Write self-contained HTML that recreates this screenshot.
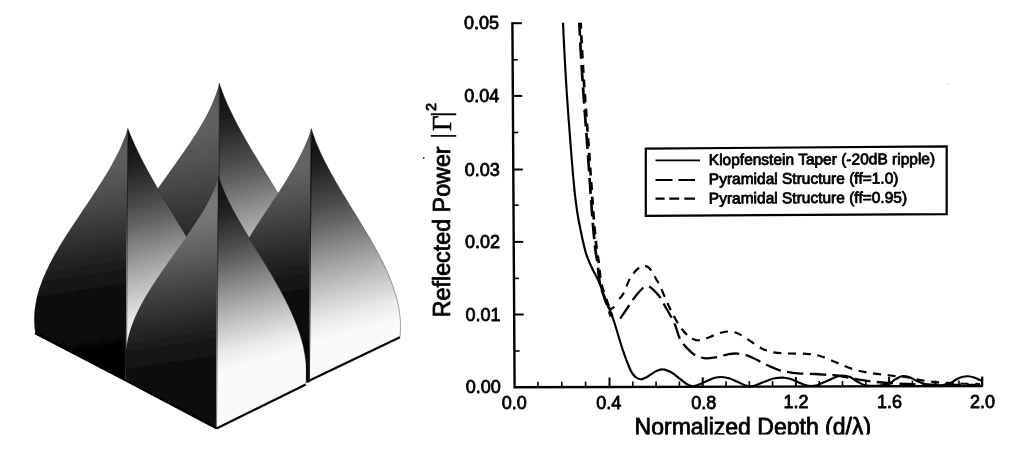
<!DOCTYPE html>
<html><head><meta charset="utf-8"><title>Pyramidal structure reflected power</title>
<style>
html,body{margin:0;padding:0;background:#fff;}
body{width:1024px;height:454px;overflow:hidden;}
svg{display:block;}
</style></head>
<body>
<svg width="1024" height="454" viewBox="0 0 1024 454">
<defs><filter id="soft" x="-2%" y="-2%" width="104%" height="104%"><feGaussianBlur stdDeviation="0.45"/></filter><linearGradient id="glB" gradientUnits="userSpaceOnUse" x1="219.3" y1="83.2" x2="258.9" y2="347.3"><stop offset="0.000" stop-color="#4b4b4b"/><stop offset="0.102" stop-color="#606060"/><stop offset="0.186" stop-color="#5d5d5d"/><stop offset="0.326" stop-color="#4c4c4c"/><stop offset="0.465" stop-color="#353535"/><stop offset="0.581" stop-color="#242424"/><stop offset="0.698" stop-color="#141414"/><stop offset="0.814" stop-color="#0a0a0a"/><stop offset="1.000" stop-color="#060606"/></linearGradient><linearGradient id="grB" gradientUnits="userSpaceOnUse" x1="219.3" y1="83.2" x2="273.9" y2="293.0"><stop offset="0.000" stop-color="#0e0e0e"/><stop offset="0.093" stop-color="#141414"/><stop offset="0.186" stop-color="#222222"/><stop offset="0.279" stop-color="#363636"/><stop offset="0.372" stop-color="#4c4c4c"/><stop offset="0.465" stop-color="#666666"/><stop offset="0.558" stop-color="#848484"/><stop offset="0.674" stop-color="#a8a8a8"/><stop offset="0.791" stop-color="#cacaca"/><stop offset="0.907" stop-color="#eaeaea"/><stop offset="1.000" stop-color="#fafafa"/></linearGradient><linearGradient id="glL" gradientUnits="userSpaceOnUse" x1="127.8" y1="128.5" x2="159.3" y2="338.8"><stop offset="0.000" stop-color="#494949"/><stop offset="0.102" stop-color="#5d5d5d"/><stop offset="0.186" stop-color="#5a5a5a"/><stop offset="0.326" stop-color="#4a4a4a"/><stop offset="0.465" stop-color="#343434"/><stop offset="0.581" stop-color="#232323"/><stop offset="0.698" stop-color="#131313"/><stop offset="0.814" stop-color="#0a0a0a"/><stop offset="1.000" stop-color="#060606"/></linearGradient><linearGradient id="grL" gradientUnits="userSpaceOnUse" x1="127.8" y1="128.5" x2="180.2" y2="329.9"><stop offset="0.000" stop-color="#0e0e0e"/><stop offset="0.093" stop-color="#141414"/><stop offset="0.186" stop-color="#222222"/><stop offset="0.279" stop-color="#363636"/><stop offset="0.372" stop-color="#4c4c4c"/><stop offset="0.465" stop-color="#666666"/><stop offset="0.558" stop-color="#848484"/><stop offset="0.674" stop-color="#a8a8a8"/><stop offset="0.791" stop-color="#cacaca"/><stop offset="0.907" stop-color="#eaeaea"/><stop offset="1.000" stop-color="#fafafa"/></linearGradient><linearGradient id="glR" gradientUnits="userSpaceOnUse" x1="311.3" y1="128.8" x2="342.8" y2="339.1"><stop offset="0.000" stop-color="#4f4f4f"/><stop offset="0.102" stop-color="#656565"/><stop offset="0.186" stop-color="#626262"/><stop offset="0.326" stop-color="#505050"/><stop offset="0.465" stop-color="#383838"/><stop offset="0.581" stop-color="#262626"/><stop offset="0.698" stop-color="#151515"/><stop offset="0.814" stop-color="#0b0b0b"/><stop offset="1.000" stop-color="#060606"/></linearGradient><linearGradient id="grR" gradientUnits="userSpaceOnUse" x1="311.3" y1="128.8" x2="363.7" y2="330.2"><stop offset="0.000" stop-color="#0e0e0e"/><stop offset="0.093" stop-color="#141414"/><stop offset="0.186" stop-color="#222222"/><stop offset="0.279" stop-color="#363636"/><stop offset="0.372" stop-color="#4c4c4c"/><stop offset="0.465" stop-color="#666666"/><stop offset="0.558" stop-color="#848484"/><stop offset="0.674" stop-color="#a8a8a8"/><stop offset="0.791" stop-color="#cacaca"/><stop offset="0.907" stop-color="#eaeaea"/><stop offset="1.000" stop-color="#fafafa"/></linearGradient><linearGradient id="glF" gradientUnits="userSpaceOnUse" x1="218.4" y1="176.2" x2="252.4" y2="403.1"><stop offset="0.000" stop-color="#5e5e5e"/><stop offset="0.102" stop-color="#787878"/><stop offset="0.186" stop-color="#747474"/><stop offset="0.326" stop-color="#5e5e5e"/><stop offset="0.465" stop-color="#424242"/><stop offset="0.581" stop-color="#2d2d2d"/><stop offset="0.698" stop-color="#191919"/><stop offset="0.814" stop-color="#0d0d0d"/><stop offset="1.000" stop-color="#070707"/></linearGradient><linearGradient id="grF" gradientUnits="userSpaceOnUse" x1="218.4" y1="176.2" x2="266.1" y2="359.8"><stop offset="0.000" stop-color="#0e0e0e"/><stop offset="0.093" stop-color="#141414"/><stop offset="0.186" stop-color="#222222"/><stop offset="0.279" stop-color="#363636"/><stop offset="0.372" stop-color="#4c4c4c"/><stop offset="0.465" stop-color="#666666"/><stop offset="0.558" stop-color="#848484"/><stop offset="0.674" stop-color="#a8a8a8"/><stop offset="0.791" stop-color="#cacaca"/><stop offset="0.907" stop-color="#eaeaea"/><stop offset="1.000" stop-color="#fafafa"/></linearGradient></defs>
<rect width="1024" height="454" fill="#fff"/>
<g id="pyramids" filter="url(#soft)">
<path d="M219.3 83.2 L218.5 86.2 L217.6 89.2 L216.6 92.2 L215.6 95.3 L214.4 98.3 L213.2 101.3 L211.9 104.3 L210.5 107.3 L209.1 110.4 L207.5 113.4 L206.0 116.4 L204.3 119.4 L202.6 122.4 L200.9 125.4 L199.1 128.5 L197.2 131.5 L195.4 134.5 L193.4 137.5 L191.5 140.5 L189.5 143.5 L187.4 146.6 L185.4 149.6 L183.3 152.6 L181.2 155.6 L179.1 158.6 L176.9 161.6 L174.8 164.7 L172.6 167.7 L170.5 170.7 L168.3 173.7 L166.2 176.7 L164.0 179.7 L161.9 182.8 L159.7 185.8 L157.6 188.8 L155.5 191.8 L153.4 194.8 L151.4 197.8 L149.4 200.9 L147.4 203.9 L145.4 206.9 L143.5 209.9 L141.6 212.9 L139.8 215.9 L138.0 219.0 L136.3 222.0 L134.6 225.0 L133.0 228.0 L133.0 300.0 L219.0 300.0Z" fill="url(#glB)"/>
<path d="M219.3 83.2 L220.3 86.2 L221.4 89.3 L222.5 92.3 L223.7 95.3 L224.9 98.4 L226.2 101.4 L227.5 104.4 L228.9 107.5 L230.3 110.5 L231.8 113.6 L233.2 116.6 L234.8 119.6 L236.3 122.7 L237.9 125.7 L239.6 128.7 L241.2 131.8 L242.9 134.8 L244.6 137.8 L246.3 140.9 L248.1 143.9 L249.9 146.9 L251.6 150.0 L253.4 153.0 L255.3 156.0 L257.1 159.1 L258.9 162.1 L260.8 165.2 L262.7 168.2 L264.5 171.2 L266.4 174.3 L268.3 177.3 L270.1 180.3 L272.0 183.4 L273.9 186.4 L275.7 189.4 L277.6 192.5 L279.4 195.5 L281.2 198.5 L283.0 201.6 L284.8 204.6 L286.6 207.6 L288.3 210.7 L290.1 213.7 L291.8 216.8 L293.5 219.8 L295.1 222.8 L296.8 225.9 L298.4 228.9 L299.9 231.9 L301.5 235.0 L303.0 238.0 L302.4 300.0 L218.4 300.0Z" fill="url(#grB)"/>
<path d="M219.3 83.2 L220.3 86.2 L221.4 89.3 L222.5 92.3 L223.7 95.3 L224.9 98.4 L226.2 101.4 L227.5 104.4 L228.9 107.5 L230.3 110.5 L231.8 113.6 L233.2 116.6 L234.8 119.6 L236.3 122.7 L237.9 125.7 L239.6 128.7 L241.2 131.8 L242.9 134.8 L244.6 137.8 L246.3 140.9 L248.1 143.9 L249.9 146.9 L251.6 150.0 L253.4 153.0 L255.3 156.0 L257.1 159.1 L258.9 162.1 L260.8 165.2 L262.7 168.2 L264.5 171.2 L266.4 174.3 L268.3 177.3 L270.1 180.3 L272.0 183.4 L273.9 186.4 L275.7 189.4 L277.6 192.5 L279.4 195.5 L281.2 198.5 L283.0 201.6 L284.8 204.6 L286.6 207.6 L288.3 210.7 L290.1 213.7 L291.8 216.8 L293.5 219.8 L295.1 222.8 L296.8 225.9 L298.4 228.9 L299.9 231.9 L301.5 235.0 L303.0 238.0" fill="none" stroke="#1a1a1a" stroke-width="0.9" stroke-opacity="0.45"/>
<path d="M219.3 83.2 L219.0 300.0" fill="none" stroke="#111" stroke-width="1" stroke-opacity="0.6"/>
<path d="M127.8 128.5 L126.8 131.5 L125.8 134.6 L124.7 137.6 L123.5 140.6 L122.2 143.6 L120.9 146.7 L119.5 149.7 L118.0 152.7 L116.5 155.8 L114.9 158.8 L113.3 161.8 L111.6 164.9 L109.9 167.9 L108.2 170.9 L106.4 173.9 L104.5 177.0 L102.7 180.0 L100.8 183.0 L98.8 186.1 L96.9 189.1 L94.9 192.1 L92.9 195.1 L90.9 198.2 L88.9 201.2 L86.9 204.2 L84.9 207.3 L82.8 210.3 L80.8 213.3 L78.8 216.4 L76.7 219.4 L74.7 222.4 L72.7 225.4 L70.7 228.5 L68.7 231.5 L66.8 234.5 L64.9 237.6 L63.0 240.6 L61.1 243.6 L59.3 246.6 L57.5 249.7 L55.7 252.7 L54.0 255.7 L52.4 258.8 L50.8 261.8 L49.2 264.8 L47.8 267.9 L46.3 270.9 L45.0 273.9 L43.7 276.9 L42.4 280.0 L41.3 283.0 L40.2 286.0 L39.2 289.1 L38.3 292.1 L37.5 295.1 L36.7 298.1 L36.1 301.2 L35.5 304.2 L35.1 307.2 L34.7 310.3 L34.4 313.3 L34.3 316.3 L34.2 319.4 L34.3 322.4 L34.4 325.4 L34.7 328.4 L35.1 331.5 L35.6 334.5 L126.4 380.7 L126.8 250.0Z" fill="url(#glL)"/>
<path d="M127.8 128.5 L129.0 131.5 L130.2 134.5 L131.5 137.5 L132.8 140.5 L134.1 143.5 L135.5 146.5 L136.9 149.6 L138.3 152.6 L139.8 155.6 L141.3 158.6 L142.8 161.6 L144.4 164.6 L146.0 167.6 L147.6 170.6 L149.2 173.6 L150.9 176.6 L152.6 179.6 L154.3 182.6 L156.0 185.6 L157.7 188.6 L159.5 191.7 L161.3 194.7 L163.1 197.7 L164.9 200.7 L166.7 203.7 L168.5 206.7 L170.3 209.7 L172.1 212.7 L173.9 215.7 L175.7 218.7 L177.5 221.7 L179.3 224.7 L181.1 227.7 L182.9 230.8 L184.7 233.8 L186.5 236.8 L188.2 239.8 L189.9 242.8 L191.6 245.8 L193.3 248.8 L195.0 251.8 L196.6 254.8 L198.2 257.8 L199.8 260.8 L201.4 263.8 L202.9 266.8 L204.3 269.8 L205.8 272.9 L207.2 275.9 L208.5 278.9 L209.8 281.9 L211.0 284.9 L212.1 287.9 L213.2 290.9 L214.3 293.9 L215.2 296.9 L216.1 299.9 L216.9 302.9 L217.6 305.9 L218.2 308.9 L218.7 311.9 L219.2 315.0 L219.5 318.0 L219.7 321.0 L219.8 324.0 L219.9 327.0 L219.7 330.0 L219.5 333.0 L125.8 380.7 L126.2 250.0Z" fill="url(#grL)"/>
<path d="M127.8 128.5 L129.0 131.5 L130.2 134.5 L131.5 137.5 L132.8 140.5 L134.1 143.5 L135.5 146.5 L136.9 149.6 L138.3 152.6 L139.8 155.6 L141.3 158.6 L142.8 161.6 L144.4 164.6 L146.0 167.6 L147.6 170.6 L149.2 173.6 L150.9 176.6 L152.6 179.6 L154.3 182.6 L156.0 185.6 L157.7 188.6 L159.5 191.7 L161.3 194.7 L163.1 197.7 L164.9 200.7 L166.7 203.7 L168.5 206.7 L170.3 209.7 L172.1 212.7 L173.9 215.7 L175.7 218.7 L177.5 221.7 L179.3 224.7 L181.1 227.7 L182.9 230.8 L184.7 233.8 L186.5 236.8 L188.2 239.8 L189.9 242.8 L191.6 245.8 L193.3 248.8 L195.0 251.8 L196.6 254.8 L198.2 257.8 L199.8 260.8 L201.4 263.8 L202.9 266.8 L204.3 269.8 L205.8 272.9 L207.2 275.9 L208.5 278.9 L209.8 281.9 L211.0 284.9 L212.1 287.9 L213.2 290.9 L214.3 293.9 L215.2 296.9 L216.1 299.9 L216.9 302.9 L217.6 305.9 L218.2 308.9 L218.7 311.9 L219.2 315.0 L219.5 318.0 L219.7 321.0 L219.8 324.0 L219.9 327.0 L219.7 330.0 L219.5 333.0" fill="none" stroke="#1a1a1a" stroke-width="0.9" stroke-opacity="0.45"/>
<path d="M127.8 128.5 L126.4 380.7" fill="none" stroke="#111" stroke-width="1" stroke-opacity="0.6"/>
<path d="M311.3 128.8 L310.3 131.8 L309.2 134.9 L308.1 137.9 L306.9 140.9 L305.6 144.0 L304.3 147.0 L302.9 150.0 L301.4 153.1 L299.9 156.1 L298.3 159.1 L296.7 162.2 L295.0 165.2 L293.3 168.2 L291.6 171.3 L289.8 174.3 L287.9 177.3 L286.1 180.4 L284.2 183.4 L282.3 186.4 L280.4 189.4 L278.4 192.5 L276.4 195.5 L274.5 198.5 L272.5 201.6 L270.5 204.6 L268.5 207.6 L266.4 210.7 L264.4 213.7 L262.4 216.7 L260.4 219.8 L258.5 222.8 L256.5 225.8 L254.5 228.9 L252.6 231.9 L250.7 234.9 L248.8 238.0 L246.9 241.0 L245.1 244.0 L243.3 247.1 L241.5 250.1 L239.8 253.1 L238.2 256.2 L236.5 259.2 L234.9 262.2 L233.4 265.3 L231.9 268.3 L230.5 271.3 L229.2 274.4 L227.9 277.4 L226.7 280.4 L225.5 283.5 L224.4 286.5 L223.4 289.5 L222.5 292.5 L221.7 295.6 L220.9 298.6 L220.2 301.6 L219.6 304.7 L219.2 307.7 L218.8 310.7 L218.5 313.8 L218.3 316.8 L218.2 319.8 L218.3 322.9 L218.4 325.9 L218.7 328.9 L219.0 332.0 L219.5 335.0 L309.4 380.5 L310.3 250.0Z" fill="url(#glR)"/>
<path d="M311.3 128.8 L312.3 131.8 L313.3 134.8 L314.4 137.8 L315.5 140.9 L316.7 143.9 L318.0 146.9 L319.3 149.9 L320.6 152.9 L322.1 155.9 L323.5 158.9 L325.0 162.0 L326.6 165.0 L328.1 168.0 L329.8 171.0 L331.4 174.0 L333.1 177.0 L334.8 180.0 L336.5 183.1 L338.3 186.1 L340.0 189.1 L341.8 192.1 L343.6 195.1 L345.5 198.1 L347.3 201.1 L349.1 204.2 L351.0 207.2 L352.8 210.2 L354.7 213.2 L356.5 216.2 L358.4 219.2 L360.2 222.2 L362.0 225.3 L363.8 228.3 L365.6 231.3 L367.4 234.3 L369.2 237.3 L370.9 240.3 L372.6 243.4 L374.3 246.4 L376.0 249.4 L377.6 252.4 L379.2 255.4 L380.8 258.4 L382.3 261.4 L383.8 264.5 L385.2 267.5 L386.6 270.5 L387.9 273.5 L389.2 276.5 L390.4 279.5 L391.6 282.5 L392.7 285.6 L393.7 288.6 L394.7 291.6 L395.6 294.6 L396.5 297.6 L397.2 300.6 L397.9 303.6 L398.6 306.7 L399.1 309.7 L399.6 312.7 L399.9 315.7 L400.2 318.7 L400.4 321.7 L400.5 324.7 L400.5 327.8 L400.4 330.8 L400.3 333.8 L400.0 336.8 L308.8 380.5 L309.7 250.0Z" fill="url(#grR)"/>
<path d="M311.3 128.8 L312.3 131.8 L313.3 134.8 L314.4 137.8 L315.5 140.9 L316.7 143.9 L318.0 146.9 L319.3 149.9 L320.6 152.9 L322.1 155.9 L323.5 158.9 L325.0 162.0 L326.6 165.0 L328.1 168.0 L329.8 171.0 L331.4 174.0 L333.1 177.0 L334.8 180.0 L336.5 183.1 L338.3 186.1 L340.0 189.1 L341.8 192.1 L343.6 195.1 L345.5 198.1 L347.3 201.1 L349.1 204.2 L351.0 207.2 L352.8 210.2 L354.7 213.2 L356.5 216.2 L358.4 219.2 L360.2 222.2 L362.0 225.3 L363.8 228.3 L365.6 231.3 L367.4 234.3 L369.2 237.3 L370.9 240.3 L372.6 243.4 L374.3 246.4 L376.0 249.4 L377.6 252.4 L379.2 255.4 L380.8 258.4 L382.3 261.4 L383.8 264.5 L385.2 267.5 L386.6 270.5 L387.9 273.5 L389.2 276.5 L390.4 279.5 L391.6 282.5 L392.7 285.6 L393.7 288.6 L394.7 291.6 L395.6 294.6 L396.5 297.6 L397.2 300.6 L397.9 303.6 L398.6 306.7 L399.1 309.7 L399.6 312.7 L399.9 315.7 L400.2 318.7 L400.4 321.7 L400.5 324.7 L400.5 327.8 L400.4 330.8 L400.3 333.8 L400.0 336.8" fill="none" stroke="#1a1a1a" stroke-width="0.9" stroke-opacity="0.45"/>
<path d="M311.3 128.8 L309.4 380.5" fill="none" stroke="#111" stroke-width="1" stroke-opacity="0.6"/>
<path d="M218.4 176.2 L217.6 179.2 L216.8 182.2 L215.8 185.2 L214.6 188.2 L213.4 191.2 L212.1 194.2 L210.7 197.3 L209.2 200.3 L207.6 203.3 L205.9 206.3 L204.2 209.3 L202.4 212.3 L200.5 215.3 L198.6 218.3 L196.7 221.3 L194.7 224.3 L192.7 227.3 L190.6 230.3 L188.6 233.3 L186.5 236.3 L184.4 239.4 L182.3 242.4 L180.2 245.4 L178.0 248.4 L175.9 251.4 L173.8 254.4 L171.7 257.4 L169.5 260.4 L167.4 263.4 L165.3 266.4 L163.2 269.4 L161.2 272.4 L159.1 275.4 L157.1 278.4 L155.1 281.5 L153.2 284.5 L151.2 287.5 L149.4 290.5 L147.5 293.5 L145.7 296.5 L144.0 299.5 L142.3 302.5 L140.7 305.5 L139.2 308.5 L137.7 311.5 L136.3 314.5 L134.9 317.5 L133.7 320.6 L132.5 323.6 L131.4 326.6 L130.4 329.6 L129.5 332.6 L128.7 335.6 L128.0 338.6 L127.4 341.6 L126.8 344.6 L126.4 347.6 L126.0 350.6 L125.7 353.6 L125.5 356.6 L125.4 359.6 L125.3 362.7 L125.4 365.7 L125.5 368.7 L125.7 371.7 L125.9 374.7 L126.2 377.7 L126.6 380.7 L216.5 428.4 L217.3 300.0Z" fill="url(#glF)"/>
<path d="M218.4 176.2 L219.4 179.2 L220.5 182.2 L221.6 185.2 L222.8 188.2 L224.0 191.2 L225.4 194.2 L226.7 197.3 L228.1 200.3 L229.6 203.3 L231.1 206.3 L232.7 209.3 L234.3 212.3 L235.9 215.3 L237.6 218.3 L239.3 221.3 L241.1 224.3 L242.8 227.3 L244.6 230.3 L246.4 233.3 L248.2 236.3 L250.0 239.4 L251.9 242.4 L253.7 245.4 L255.6 248.4 L257.4 251.4 L259.3 254.4 L261.1 257.4 L263.0 260.4 L264.8 263.4 L266.6 266.4 L268.4 269.4 L270.2 272.4 L272.0 275.4 L273.7 278.4 L275.4 281.5 L277.1 284.5 L278.8 287.5 L280.5 290.5 L282.1 293.5 L283.7 296.5 L285.2 299.5 L286.7 302.5 L288.2 305.5 L289.6 308.5 L291.0 311.5 L292.3 314.5 L293.6 317.5 L294.9 320.5 L296.1 323.6 L297.2 326.6 L298.3 329.6 L299.3 332.6 L300.3 335.6 L301.2 338.6 L302.0 341.6 L302.8 344.6 L303.5 347.6 L304.1 350.6 L304.7 353.6 L305.1 356.6 L305.5 359.6 L305.9 362.6 L306.1 365.7 L306.3 368.7 L306.4 371.7 L306.3 374.7 L306.2 377.7 L306.1 380.7 L305.8 383.7 L215.9 428.4 L216.7 300.0Z" fill="url(#grF)"/>
<path d="M218.4 176.2 L219.4 179.2 L220.5 182.2 L221.6 185.2 L222.8 188.2 L224.0 191.2 L225.4 194.2 L226.7 197.3 L228.1 200.3 L229.6 203.3 L231.1 206.3 L232.7 209.3 L234.3 212.3 L235.9 215.3 L237.6 218.3 L239.3 221.3 L241.1 224.3 L242.8 227.3 L244.6 230.3 L246.4 233.3 L248.2 236.3 L250.0 239.4 L251.9 242.4 L253.7 245.4 L255.6 248.4 L257.4 251.4 L259.3 254.4 L261.1 257.4 L263.0 260.4 L264.8 263.4 L266.6 266.4 L268.4 269.4 L270.2 272.4 L272.0 275.4 L273.7 278.4 L275.4 281.5 L277.1 284.5 L278.8 287.5 L280.5 290.5 L282.1 293.5 L283.7 296.5 L285.2 299.5 L286.7 302.5 L288.2 305.5 L289.6 308.5 L291.0 311.5 L292.3 314.5 L293.6 317.5 L294.9 320.5 L296.1 323.6 L297.2 326.6 L298.3 329.6 L299.3 332.6 L300.3 335.6 L301.2 338.6 L302.0 341.6 L302.8 344.6 L303.5 347.6 L304.1 350.6 L304.7 353.6 L305.1 356.6 L305.5 359.6 L305.9 362.6 L306.1 365.7 L306.3 368.7 L306.4 371.7 L306.3 374.7 L306.2 377.7 L306.1 380.7 L305.8 383.7" fill="none" stroke="#1a1a1a" stroke-width="0.9" stroke-opacity="0.45"/>
<path d="M218.4 176.2 L216.5 428.4" fill="none" stroke="#111" stroke-width="1" stroke-opacity="0.6"/>
<path d="M34.9 333 L126.5 380.7 L216.5 428.4" stroke="#000" stroke-width="2.2" fill="none"/>
<path d="M216.5 428.4 L305.8 384.5" stroke="#000" stroke-width="2.2" fill="none"/>
<path d="M308.5 381 L399.9 337.3" stroke="#000" stroke-width="2.2" fill="none"/>
<path d="M307.7 352 L307.7 382.6" stroke="#080808" stroke-width="3.2" fill="none"/>
<path d="M311.2 135 L309.4 380.5" stroke="#0a0a0a" stroke-width="1.1" fill="none" stroke-opacity="0.55"/>
<circle cx="947.5" cy="84" r="0.6" fill="#999"/>
</g>
<g id="plot">
<path d="M512.4 22.2 L514.6 387.3 L982.6 386" stroke="#000" stroke-width="2.4" fill="none" stroke-linejoin="miter"/>
<path d="M512.4 23.2 h9.5" stroke="#000" stroke-width="2"/><path d="M512.8 95.9 h9.5" stroke="#000" stroke-width="2"/><path d="M513.3 169.5 h9.5" stroke="#000" stroke-width="2"/><path d="M513.7 241.9 h9.5" stroke="#000" stroke-width="2"/><path d="M514.2 314.5 h9.5" stroke="#000" stroke-width="2"/><path d="M512.6 59.8 h5.2" stroke="#000" stroke-width="1.6"/><path d="M513.1 132.5 h5.2" stroke="#000" stroke-width="1.6"/><path d="M513.5 205.2 h5.2" stroke="#000" stroke-width="1.6"/><path d="M513.9 278.4 h5.2" stroke="#000" stroke-width="1.6"/><path d="M514.4 351.0 h5.2" stroke="#000" stroke-width="1.6"/><path d="M537.9 387.2 v-5.5" stroke="#000" stroke-width="1.6"/><path d="M561.8 387.2 v-5.5" stroke="#000" stroke-width="1.6"/><path d="M585.6 387.1 v-5.5" stroke="#000" stroke-width="1.6"/><path d="M609.5 387.0 v-9.5" stroke="#000" stroke-width="2"/><path d="M632.8 387.0 v-5.5" stroke="#000" stroke-width="1.6"/><path d="M656.1 386.9 v-5.5" stroke="#000" stroke-width="1.6"/><path d="M679.4 386.8 v-5.5" stroke="#000" stroke-width="1.6"/><path d="M702.7 386.8 v-9.5" stroke="#000" stroke-width="2"/><path d="M726.0 386.7 v-5.5" stroke="#000" stroke-width="1.6"/><path d="M749.3 386.6 v-5.5" stroke="#000" stroke-width="1.6"/><path d="M772.6 386.6 v-5.5" stroke="#000" stroke-width="1.6"/><path d="M795.9 386.5 v-9.5" stroke="#000" stroke-width="2"/><path d="M819.2 386.5 v-5.5" stroke="#000" stroke-width="1.6"/><path d="M842.5 386.4 v-5.5" stroke="#000" stroke-width="1.6"/><path d="M865.8 386.3 v-5.5" stroke="#000" stroke-width="1.6"/><path d="M889.1 386.3 v-9.5" stroke="#000" stroke-width="2"/><path d="M912.4 386.2 v-5.5" stroke="#000" stroke-width="1.6"/><path d="M935.7 386.1 v-5.5" stroke="#000" stroke-width="1.6"/><path d="M959.0 386.1 v-5.5" stroke="#000" stroke-width="1.6"/><path d="M982.3 386.0 v-9.5" stroke="#000" stroke-width="2"/>
<path d="M563.0 22.8 C563.3 29.0 564.2 48.8 564.8 60.0 C565.4 71.2 566.0 80.0 566.6 90.0 C567.2 100.0 568.0 110.0 568.7 120.0 C569.4 130.0 570.2 140.0 571.0 150.0 C571.8 160.0 572.7 171.7 573.5 180.0 C574.3 188.3 574.7 193.2 575.6 200.0 C576.5 206.8 577.1 212.2 578.7 220.8 C580.4 229.4 583.3 243.8 585.5 251.7 C587.7 259.6 589.7 262.9 592.0 268.0 C594.3 273.1 597.1 277.2 599.3 282.5 C601.5 287.8 603.8 295.9 605.4 300.0 C607.0 304.1 607.1 303.3 608.6 307.0 C610.1 310.7 611.8 314.7 614.2 322.0 C616.6 329.3 620.2 342.6 623.0 350.7 C625.8 358.8 628.6 366.1 630.7 370.5 C632.8 374.9 633.8 375.5 635.5 377.0 C637.2 378.5 639.0 379.2 640.7 379.3 C642.5 379.4 644.2 378.4 646.0 377.5 C647.8 376.6 649.9 374.9 651.7 373.8 C653.5 372.7 655.2 371.5 657.0 370.8 C658.8 370.1 660.9 369.4 662.7 369.4 C664.5 369.4 666.2 370.1 668.0 370.8 C669.8 371.5 670.9 371.8 673.7 373.8 C676.5 375.8 682.2 380.7 684.7 382.6 C687.2 384.5 687.6 384.7 689.0 385.3 C690.4 385.9 691.5 386.2 693.0 386.2 C694.5 386.1 695.5 385.9 698.0 385.0 C700.5 384.1 705.2 381.7 708.0 380.5 C710.8 379.3 712.7 378.4 715.0 377.8 C717.3 377.2 719.5 376.9 721.8 377.0 C724.1 377.1 726.3 377.5 729.0 378.3 C731.7 379.1 735.3 380.9 738.0 382.0 C740.7 383.1 742.9 384.5 745.0 385.2 C747.1 385.9 748.6 386.3 750.4 386.3 C752.2 386.3 753.6 386.0 756.0 385.2 C758.4 384.4 761.8 382.6 765.0 381.5 C768.2 380.4 772.1 378.9 775.0 378.3 C777.9 377.7 779.9 377.5 782.4 377.6 C784.9 377.7 787.1 377.9 790.0 378.8 C792.9 379.7 797.3 381.9 800.0 383.0 C802.7 384.1 804.2 384.8 806.0 385.3 C807.8 385.8 809.2 386.0 811.0 386.0 C812.8 386.0 814.5 385.9 817.0 385.2 C819.5 384.4 822.8 382.9 826.0 381.5 C829.2 380.1 833.2 378.0 836.0 377.0 C838.8 376.0 840.7 375.5 843.0 375.5 C845.3 375.5 847.5 375.9 850.0 377.0 C852.5 378.1 855.7 380.7 858.0 382.0 C860.3 383.3 862.0 384.4 864.0 385.0 C866.0 385.6 867.3 385.7 870.0 385.8 C872.7 385.9 876.9 385.8 880.0 385.5 C883.1 385.2 886.2 385.0 888.7 384.0 C891.2 383.0 892.6 380.8 895.0 379.5 C897.4 378.2 900.3 376.3 902.8 376.0 C905.3 375.7 907.5 376.6 910.0 377.5 C912.5 378.4 915.4 380.4 918.0 381.5 C920.6 382.6 922.8 383.6 925.6 384.2 C928.4 384.8 931.2 385.3 935.0 385.3 C938.8 385.3 945.0 385.0 948.5 384.0 C952.0 383.0 953.8 380.7 956.0 379.5 C958.2 378.3 960.0 377.5 962.0 377.0 C964.0 376.5 966.0 376.2 968.0 376.3 C970.0 376.4 971.8 376.8 974.0 377.5 C976.2 378.2 979.8 380.2 981.0 380.7" stroke="#000" stroke-width="2.15" fill="none"/>
<path d="M579.3 22.8 C579.6 29.5 580.6 49.8 581.4 62.7 C582.2 75.6 583.0 87.1 583.9 100.0 C584.8 112.9 586.0 127.5 586.9 140.0 C587.8 152.5 588.7 165.0 589.4 175.0 C590.1 185.0 590.4 190.8 591.1 200.0 C591.8 209.2 592.6 221.4 593.4 230.0 C594.2 238.6 595.0 246.4 595.7 251.7 C596.4 257.0 596.7 256.9 597.4 262.0 C598.1 267.1 598.6 276.8 599.7 282.5 C600.8 288.2 602.6 291.9 603.9 296.0 C605.2 300.1 606.5 303.6 607.7 307.0 C608.9 310.4 610.4 314.9 610.9 316.5" stroke="#000" stroke-width="2.7" fill="none" stroke-dasharray="16.2 6.4" stroke-dashoffset="3"/>
<path d="M580.6 22.8 C581.0 29.5 581.9 49.8 582.7 62.7 C583.5 75.6 584.3 87.1 585.2 100.0 C586.1 112.9 587.3 127.5 588.2 140.0 C589.1 152.5 590.0 165.0 590.7 175.0 C591.4 185.0 591.7 190.8 592.4 200.0 C593.1 209.2 593.9 221.4 594.7 230.0 C595.5 238.6 596.3 246.4 597.0 251.7 C597.7 257.0 598.0 256.9 598.7 262.0 C599.4 267.1 599.9 276.8 601.0 282.5 C602.1 288.2 603.9 291.9 605.2 296.0 C606.5 300.1 607.8 303.6 609.0 307.0 C610.2 310.4 611.7 314.9 612.2 316.5" stroke="#000" stroke-width="2.7" fill="none" stroke-dasharray="8 6.7" stroke-dashoffset="2"/>
<path d="M607.5 306.5 Q610.5 311 614.2 306.8" stroke="#000" stroke-width="2.2" fill="none"/>
<path d="M619.3 299.0 C620.0 298.1 621.7 296.7 623.4 293.4 C625.1 290.1 627.8 282.7 629.6 279.3 C631.4 275.9 632.4 274.8 634.0 272.8 C635.6 270.8 637.9 268.4 639.5 267.2 C641.1 266.0 642.1 265.6 643.5 265.6 C644.9 265.6 646.6 266.2 648.0 267.2 C649.4 268.2 650.7 269.6 652.0 271.5 C653.3 273.4 654.5 276.0 655.8 278.4 C657.1 280.8 658.2 282.2 660.0 286.0 C661.8 289.8 664.4 296.2 666.5 300.9 C668.6 305.6 670.3 309.5 672.7 314.0 C675.1 318.5 678.3 324.3 681.0 328.0 C683.7 331.7 686.7 334.6 688.7 336.4 C690.7 338.2 691.4 338.4 693.0 339.0 C694.6 339.6 696.4 340.4 698.6 340.3 C700.8 340.2 703.4 339.3 706.0 338.5 C708.6 337.7 711.3 336.3 714.0 335.3 C716.7 334.3 719.2 333.1 722.0 332.5 C724.8 331.9 727.9 331.3 730.6 331.5 C733.3 331.7 735.6 332.5 738.0 333.5 C740.4 334.5 741.7 335.4 745.0 337.5 C748.3 339.6 754.7 344.2 758.0 346.3 C761.3 348.4 762.4 349.0 765.0 350.0 C767.6 351.0 769.6 351.8 773.6 352.4 C777.6 353.0 783.5 353.3 789.0 353.5 C794.5 353.7 801.4 353.4 806.6 353.8 C811.8 354.2 814.8 354.5 820.0 356.0 C825.2 357.5 831.8 360.7 837.6 363.0 C843.4 365.3 849.1 368.1 855.0 369.8 C860.9 371.5 866.9 372.4 872.8 373.4 C878.7 374.3 884.5 374.8 890.4 375.5 C896.3 376.2 902.7 376.7 908.0 377.5 C913.3 378.3 916.7 379.6 922.0 380.4 C927.3 381.2 933.4 382.0 939.7 382.5 C946.0 383.0 953.3 383.2 960.0 383.5 C966.7 383.8 976.7 383.9 980.0 384.0" stroke="#000" stroke-width="2.2" fill="none" stroke-dasharray="8 6.7"/>
<path d="M620.2 318.7 C621.7 316.5 626.8 308.8 629.0 305.5 C631.2 302.2 631.6 301.4 633.4 299.0 C635.2 296.6 638.1 293.0 640.0 291.0 C641.9 289.0 643.4 287.6 644.6 286.8 C645.9 286.0 646.6 285.9 647.5 286.0 C648.4 286.1 648.8 286.1 650.2 287.2 C651.6 288.3 654.1 290.5 656.0 292.5 C657.9 294.5 660.0 297.0 661.4 299.0 C662.8 301.0 662.3 301.2 664.2 304.6 C666.1 308.0 670.8 316.0 672.7 319.6 C674.6 323.2 674.1 322.5 675.5 326.0 C676.9 329.5 678.2 336.3 681.0 340.8 C683.8 345.3 689.0 350.2 692.0 352.9 C695.0 355.6 696.6 355.9 699.0 356.8 C701.4 357.7 703.9 358.3 706.4 358.4 C708.9 358.5 711.6 358.0 714.0 357.6 C716.4 357.2 718.4 356.8 720.7 356.2 C723.0 355.6 725.5 354.8 728.0 354.3 C730.5 353.9 733.3 353.4 736.0 353.5 C738.7 353.6 741.4 354.2 744.0 354.8 C746.6 355.4 747.7 355.6 751.5 357.3 C755.3 359.0 763.1 363.1 767.0 365.0 C770.9 366.9 772.4 367.5 775.0 368.5 C777.6 369.5 778.6 370.2 782.4 371.0 C786.2 371.8 792.4 372.9 797.8 373.4 C803.2 373.9 809.6 373.7 815.0 374.0 C820.4 374.3 826.2 374.8 830.0 375.0 C833.8 375.2 833.4 374.8 837.6 375.5 C841.8 376.2 849.1 378.0 855.0 379.0 C860.9 380.0 865.5 380.8 872.8 381.6 C880.1 382.4 889.5 383.2 899.0 383.7 C908.5 384.2 916.5 384.4 930.0 384.6 C943.5 384.8 971.7 384.9 980.0 385.0" stroke="#000" stroke-width="2.3" fill="none" stroke-dasharray="16.2 6.4"/>
<path d="M982 377.2 V386.5" stroke="#000" stroke-width="2"/>
<path d="M645.8 148.6 L946.7 146.4 L946.7 214.1 L645.8 215.8 Z" stroke="#000" stroke-width="2.2" fill="#fff"/>
<path d="M655.5 160.4 H700" stroke="#000" stroke-width="1.8"/><path d="M655.5 180 H672.5 M678.4 180 H695" stroke="#000" stroke-width="2.1"/><path d="M655.5 198.6 H664.6 M669.3 198.6 H679.2 M684.3 198.6 H695" stroke="#000" stroke-width="2.1"/>
<g font-family="'Liberation Sans',sans-serif" fill="#000" stroke="#000" stroke-width="0.8" stroke-linejoin="round" font-size="15.5"><text x="708.8" y="165" transform="rotate(-0.25 708.8 165)">Klopfenstein Taper (-20dB ripple)</text><text x="708.8" y="184.2" transform="rotate(-0.25 708.8 184.2)">Pyramidal Structure (ff=1.0)</text><text x="708.8" y="203.5" transform="rotate(-0.25 708.8 203.5)">Pyramidal Structure (ff=0.95)</text></g>
<g font-family="'Liberation Sans',sans-serif" fill="#000" stroke="#000" stroke-width="0.8" stroke-linejoin="round" font-size="18" text-anchor="end"><text x="499.0" y="29.2">0.05</text><text x="499.4" y="101.9">0.04</text><text x="499.8" y="175.5">0.03</text><text x="500.1" y="247.9">0.02</text><text x="500.5" y="320.5">0.01</text><text x="500.9" y="393.2">0.00</text></g>
<g font-family="'Liberation Sans',sans-serif" fill="#000" stroke="#000" stroke-width="0.8" stroke-linejoin="round" font-size="18" text-anchor="middle"><text x="514.2" y="409.2">0.0</text><text x="608.8" y="409.0">0.4</text><text x="703.7" y="408.6">0.8</text><text x="796.0" y="408.3">1.2</text><text x="889.5" y="408.0">1.6</text><text x="982.4" y="407.7">2.0</text></g>
<text font-family="'Liberation Sans',sans-serif" fill="#000" stroke="#000" stroke-width="0.8" stroke-linejoin="round" font-size="23" x="634.6" y="434.7">Normalized Depth (d/λ)</text>
<rect x="600" y="434.6" width="300" height="20" fill="#fff"/>
<g transform="translate(450.2 317.3) rotate(-90)" font-family="'Liberation Sans',sans-serif" fill="#000" stroke="#000" stroke-width="0.8" stroke-linejoin="round"><text font-size="23.3" x="0" y="0">Reflected Power</text><text font-family="'Liberation Serif',serif" stroke-width="0.5" font-size="27" x="178.9" y="-0.3">|</text><text font-family="'Liberation Serif',serif" stroke-width="0.5" font-size="27" x="186.2" y="0.4">Γ</text><text font-family="'Liberation Serif',serif" stroke-width="0.5" font-size="27" x="200.2" y="-0.3">|</text><text font-size="14.5" x="206.2" y="-14.6">2</text></g>
<circle cx="423.7" cy="158" r="0.9" fill="#333"/>
</g>
</svg>
</body></html>
